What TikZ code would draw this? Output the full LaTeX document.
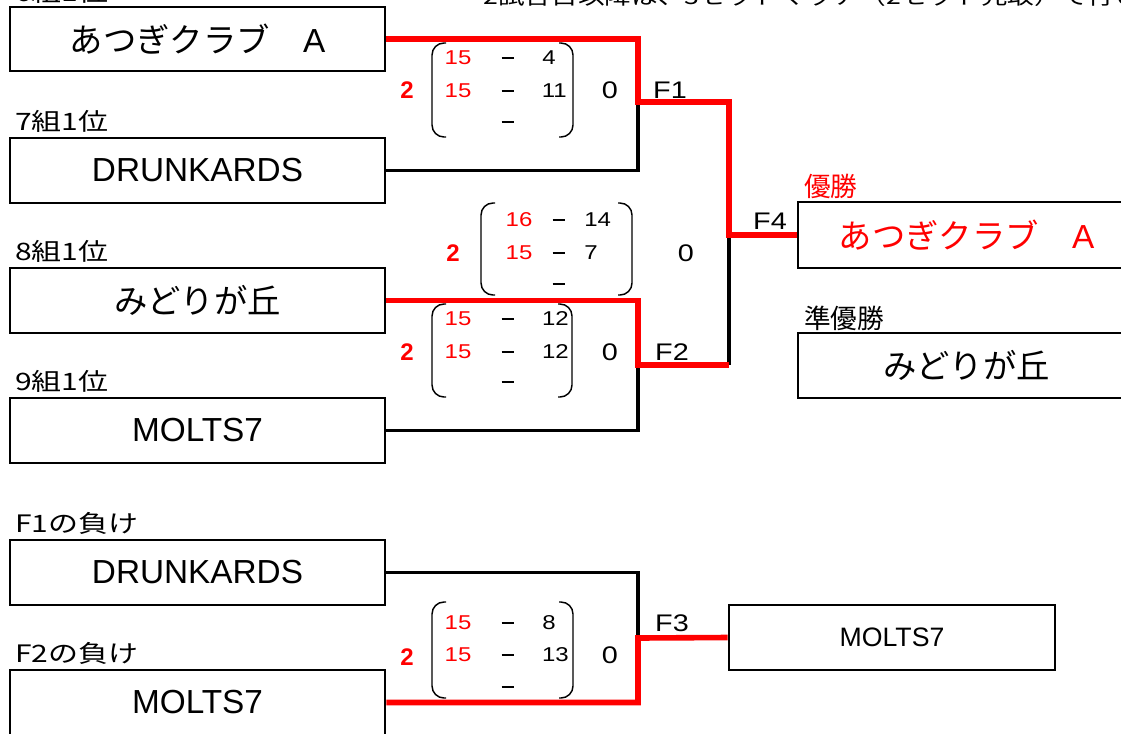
\documentclass[tikz,border=0pt]{standalone}
\usepackage{fontspec}
\setmainfont{Liberation Sans}
\newfontfamily\jp{Noto Sans CJK JP}
\newfontfamily\jpw[FakeStretch=1.25]{Noto Sans CJK JP}
\newfontfamily\scf[FakeStretch=1.2]{Liberation Sans}
\definecolor{myred}{RGB}{255,0,0}
\newcommand{\scdash}{\rule{9.5pt}{1.1pt}}
\newcommand{\atsugi}{あつぎクラブ　{\rmfamily A}}
\begin{document}
\begin{tikzpicture}[x=0.75pt,y=-0.75pt,
 box/.style={draw=black,line width=2.2pt,inner sep=0pt,minimum height=48.75pt},
 jpname/.style={font=\jp\fontsize{25}{28}\selectfont},
 enname/.style={font=\fontsize{25}{30}\selectfont},
 grp/.style={anchor=base west,inner sep=0pt,font=\jpw\fontsize{18}{20}\selectfont},
 blk/.style={line width=2.4pt,black},
 win/.style={line width=4.2pt,myred},
 sc/.style={inner sep=0pt,font=\scf\fontsize{15}{17}\selectfont},
 scr/.style={sc,text=myred},
 dsh/.style={inner sep=0pt},
 sets/.style={inner sep=0pt,font=\bfseries\fontsize{18}{20}\selectfont,text=myred},
 lost/.style={inner sep=0pt,font=\scf\fontsize{18}{20}\selectfont},
 rnd/.style={inner sep=0pt,font=\scf\fontsize{18}{20}\selectfont},
 brk/.style={line width=1.1pt,rounded corners=9pt}
]
\useasboundingbox (0,0) rectangle (1121,733);

% top (cut) texts
\node[grp] (g6) at (15,1) {6組1位};
\node[anchor=base west,inner sep=0pt,font=\jpw\fontsize{16}{18}\selectfont] (note) at (483,4) {2試合目以降は、3セットマッチ（2セット先取）で行います};

% team boxes
\node[box,jpname,minimum width=281.25pt,minimum height=48pt] (b1) at (197.5,39) {\atsugi};
\node[grp] (g7) at (15,130) {7組1位};
\node[box,enname,minimum width=281.25pt] (b2) at (197.5,170.5) {DRUNKARDS};
\node[grp] (g8) at (15,260) {8組1位};
\node[box,jpname,minimum width=281.25pt] (b3) at (197.5,300.5) {みどりが丘};
\node[grp] (g9) at (15,390) {9組1位};
\node[box,enname,minimum width=281.25pt] (b4) at (197.5,430.5) {MOLTS7};
\node[grp] (l1) at (15,532) {F1の負け};
\node[box,enname,minimum width=281.25pt] (b5) at (197.5,572.5) {DRUNKARDS};
\node[grp] (l2) at (15,662) {F2の負け};
\node[box,enname,minimum width=281.25pt] (b6) at (197.5,702.5) {MOLTS7};

% result boxes
\node[anchor=base west,inner sep=0pt,font=\jp\fontsize{20}{22}\selectfont,text=myred] (lw) at (804,196) {優勝};
\node[box,jpname,text=myred,minimum width=252.75pt,minimum height=49.5pt] (champ) at (966.5,235) {\atsugi};
\node[anchor=base west,inner sep=0pt,font=\jp\fontsize{20}{22}\selectfont] (lr) at (804,328) {準優勝};
\node[box,jpname,minimum width=252.75pt] (runner) at (966.5,365.5) {みどりが丘};
\node[box,font=\fontsize{20}{22}\selectfont,minimum width=244.5pt] (third) at (892,637.5) {MOLTS7};

% connectors
\coordinate (f1) at (638,102);
\coordinate (f2) at (638,365);
\coordinate (f4) at (729,235);
\coordinate (f2r) at (729,365);
\coordinate (f3) at (638,638);
\draw[blk] (b2.east) -| (f1);
\draw[blk] (b4.east) -| (f2);
\draw[blk] (f2r) -- (f4);
\draw[blk] (b5.east) -| (f3);
\draw[win] (b1.east) -| (f1) -| (f4) -- (champ.west);
\draw[win] (b3.east) -| (f2) -- (f2r);
\draw[win] (b6.east) -| (f3) -- (third.west);

% round labels
\node[rnd] (rf1) at (670,90) {F1};
\node[rnd] (rf2) at (672,352) {F2};
\node[rnd] (rf3) at (672,623) {F3};
\node[rnd] (rf4) at (770,221) {F4};

% F1 score
\node[sets] (w1) at (407,90) {2};
\draw[brk] (446,43) -- (432,43) -- (432,137) -- (446,137);
\draw[brk] (559,43) -- (573,43) -- (573,137) -- (559,137);
\node[scr] (a11) at (458,58) {15};
\node[dsh] (d11) at (508,58) {\scdash};
\node[sc,anchor=east] (c11) at (556,58) {4};
\node[scr] (a12) at (458,91) {15};
\node[dsh] (d12) at (508,91) {\scdash};
\node[sc,anchor=east] (c12) at (567,91) {11};
\node[dsh] (d13) at (508,122) {\scdash};
\node[lost] (z1) at (610,90) {0};

% F4 score
\node[sets] (w4) at (453,253) {2};
\draw[brk] (495,203) -- (481,203) -- (481,295) -- (495,295);
\draw[brk] (618,203) -- (632,203) -- (632,295) -- (618,295);
\node[scr] (a41) at (519,220) {16};
\node[dsh] (d41) at (559,220) {\scdash};
\node[sc,anchor=west] (c41) at (584,220) {14};
\node[scr] (a42) at (519,253) {15};
\node[dsh] (d42) at (559,253) {\scdash};
\node[sc,anchor=west] (c42) at (584,253) {7};
\node[dsh] (d43) at (559,284) {\scdash};
\node[lost] (z4) at (686,253) {0};

% F2 score
\node[sets] (w2) at (407,352) {2};
\draw[brk] (446,304) -- (432,304) -- (432,397) -- (446,397);
\draw[brk] (558,304) -- (572,304) -- (572,397) -- (558,397);
\node[scr] (a21) at (458,319) {15};
\node[dsh] (d21) at (508,319) {\scdash};
\node[sc,anchor=east] (c21) at (569,319) {12};
\node[scr] (a22) at (458,352) {15};
\node[dsh] (d22) at (508,352) {\scdash};
\node[sc,anchor=east] (c22) at (569,352) {12};
\node[dsh] (d23) at (508,382) {\scdash};
\node[lost] (z2) at (610,352) {0};

% F3 score
\node[sets] (w3) at (407,657) {2};
\draw[brk] (446,602) -- (432,602) -- (432,698) -- (446,698);
\draw[brk] (559,602) -- (573,602) -- (573,698) -- (559,698);
\node[scr] (a31) at (458,623) {15};
\node[dsh] (d31) at (508,623) {\scdash};
\node[sc,anchor=east] (c31) at (556,623) {8};
\node[scr] (a32) at (458,655) {15};
\node[dsh] (d32) at (508,655) {\scdash};
\node[sc,anchor=east] (c32) at (569,655) {13};
\node[dsh] (d33) at (508,687) {\scdash};
\node[lost] (z3) at (610,655) {0};
\end{tikzpicture}
\end{document}
